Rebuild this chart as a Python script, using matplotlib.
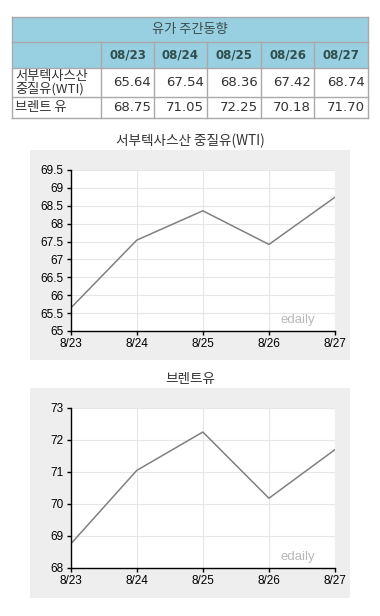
import matplotlib.pyplot as plt
from matplotlib.patches import Rectangle

plt.rcParams['font.family'] = ['Noto Sans CJK KR', 'DejaVu Sans']

# ---- data ----
table_title = "유가 주간동향"
dates_full = ["08/23", "08/24", "08/25", "08/26", "08/27"]
dates_short = ["8/23", "8/24", "8/25", "8/26", "8/27"]
row_names = ["서부텍사스산\n중질유(WTI)", "브렌트 유"]
wti = [65.64, 67.54, 68.36, 67.42, 68.74]
brent = [68.75, 71.05, 72.25, 70.18, 71.70]
wti_title = "서부텍사스산 중질유(WTI)"
brent_title = "브렌트유"
wti_yticks = [65, 65.5, 66, 66.5, 67, 67.5, 68, 68.5, 69, 69.5]
brent_yticks = [68, 69, 70, 71, 72, 73]

W, H = 380, 616
latin = ['Liberation Sans', 'DejaVu Sans']
fig = plt.figure(figsize=(W / 100, H / 100), dpi=100)
fig.patch.set_facecolor('white')

# background layer in pixel coordinates
bg = fig.add_axes([0, 0, 1, 1])
bg.set_xlim(0, W)
bg.set_ylim(H, 0)
bg.axis('off')

# ---- table ----
col_x = [12, 101, 154, 207, 261, 314, 368]
row_y = [17, 42, 68, 97, 118]
head_col = '#98cfe1'
line_col = '#a9a9a9'

bg.add_patch(Rectangle((col_x[0], row_y[0]), col_x[-1] - col_x[0], row_y[2] - row_y[0],
                       facecolor=head_col, edgecolor='none'))
for y in row_y:
    bg.plot([col_x[0], col_x[-1]], [y, y], color=line_col, lw=1)
for x in [col_x[0], col_x[-1]]:
    bg.plot([x, x], [row_y[0], row_y[-1]], color=line_col, lw=1)
for x in col_x[1:-1]:
    bg.plot([x, x], [row_y[1], row_y[-1]], color=line_col, lw=1)

bg.text((col_x[0] + col_x[-1]) / 2, (row_y[0] + row_y[1]) / 2, table_title,
        ha='center', va='center', fontsize=9.5, color='#3c4a4a')
for i, d in enumerate(dates_full):
    bg.text((col_x[i + 1] + col_x[i + 2]) / 2, (row_y[1] + row_y[2]) / 2, d,
            ha='center', va='center', fontsize=8.5, fontweight='bold',
            color='#2f4f4f', family=['DejaVu Sans'])
for r, (name, vals) in enumerate(zip(row_names, [wti, brent])):
    yc = (row_y[2 + r] + row_y[3 + r]) / 2
    bg.text(col_x[0] + 3, yc, name, ha='left', va='center', fontsize=9.5,
            color='#333333', linespacing=0.95)
    for i, v in enumerate(vals):
        bg.text(col_x[i + 2] - 3, yc, f"{v:.2f}", ha='right', va='center',
                fontsize=9.5, color='#333333', family=['DejaVu Sans'])

# ---- charts ----
panels = [
    (wti, wti_title, wti_yticks, 150, 170, 331),
    (brent, brent_title, brent_yticks, 388, 408, 568),
]
for vals, title, yt, bg_top, ax_top, ax_bot in panels:
    bg_bot = bg_top + 210
    bg.add_patch(Rectangle((30, bg_top), 320, bg_bot - bg_top,
                           facecolor='#eeeeee', edgecolor='none'))
    bg.text(190, bg_top - 9, title, ha='center', va='center',
            fontsize=9.8, color='#333333')

    left, right = 70.7, 335
    ax = fig.add_axes([left / W, 1 - ax_bot / H, (right - left) / W,
                       (ax_bot - ax_top) / H])
    ax.set_facecolor('white')
    x = range(len(vals))
    ax.plot(x, vals, color='#808080', lw=1.1)
    ax.set_xlim(0, len(vals) - 1)
    ax.set_ylim(yt[0], yt[-1])
    ax.set_xticks(list(x))
    ax.set_xticklabels(dates_short)
    ax.set_yticks(yt)
    ax.set_yticklabels([f"{t:g}" for t in yt])
    ax.grid(True, color='#e6e6e6', lw=0.8)
    ax.set_axisbelow(True)
    for s in ['top', 'right']:
        ax.spines[s].set_visible(False)
    for s in ['left', 'bottom']:
        ax.spines[s].set_color('black')
        ax.spines[s].set_linewidth(1)
    ax.tick_params(direction='out', length=3, width=1, pad=2,
                   labelsize=8.5, colors='black')
    for lab in ax.get_xticklabels() + ax.get_yticklabels():
        lab.set_family(latin)
    ax.text(0.86, 0.07, "edaily", transform=ax.transAxes, ha='center',
            va='center', fontsize=9.5, color='#b8b8b8', family=latin)

fig.savefig('out.png', dpi=100)
